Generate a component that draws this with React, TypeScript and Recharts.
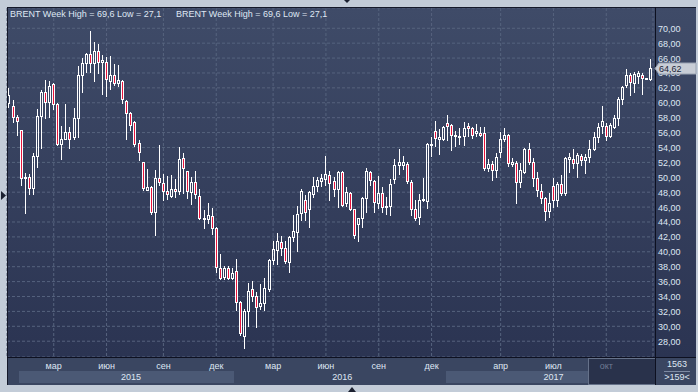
import React from 'react';
import { ComposedChart, Bar, XAxis, YAxis, CartesianGrid } from 'recharts';

// ---- data (weekly BRENT candles) ----
const opens = [
  60.0, 59.6, 58.1, 56.3, 49.9, 50.1, 48.6, 52.9, 58.2, 61.5,
  60.1, 62.5, 59.8, 54.5, 55.2, 56.1, 55.4, 58.0, 63.75, 65.4,
  66.5, 65.3, 66.9, 65.5, 65.5, 62.95, 63.75, 62.7, 62.95, 60.3,
  58.6, 57.4, 54.6, 52.0, 48.35, 48.7, 45.3, 49.9, 49.3, 48.2,
  47.5, 48.4, 48.1, 52.6, 50.8, 48.0, 49.4, 47.5, 44.4, 44.4,
  44.75, 43.2, 37.8, 36.6, 37.8, 36.5, 37.4, 33.2, 28.7, 32.0,
  35.0, 34.0, 32.7, 33.15, 35.0, 38.95, 40.3, 41.3, 40.5, 38.6,
  42.0, 42.6, 45.2, 47.0, 45.7, 47.8, 48.8, 49.45, 49.75, 50.3,
  49.5, 48.4, 50.7, 46.5, 47.9, 45.7, 43.75, 44.55, 47.2, 50.7,
  49.55, 46.6, 47.9, 46.0, 46.1, 49.8, 51.65, 51.7, 51.8, 49.4,
  45.75, 44.7, 46.9, 46.8, 54.4, 56.25, 55.2, 55.1, 57.3, 57.0,
  55.5, 55.4, 55.5, 56.9, 56.6, 56.0, 55.9, 55.9, 51.3, 51.8,
  51.0, 53.45, 55.2, 55.7, 51.8, 51.9, 49.4, 50.75, 53.75, 52.1,
  49.9, 48.2, 47.2, 45.5, 48.8, 46.9, 49.1, 47.9, 52.4, 52.45,
  51.96, 52.86, 52.3, 52.7, 53.75, 55.45, 56.9, 56.9, 55.55, 56.8,
  57.9, 60.5, 62.4, 63.7, 62.6, 63.6, 63.7, 63.3, 63.2,
];
const highs = [
  62.0, 60.4, 58.4, 56.3, 50.6, 50.5, 53.3, 59.1, 61.7, 63.0,
  62.9, 62.6, 60.0, 56.9, 59.9, 56.8, 59.3, 65.0, 66.0, 66.7,
  69.6, 68.1, 67.9, 66.4, 66.2, 66.3, 65.2, 65.1, 63.0, 60.4,
  58.7, 57.5, 54.95, 52.1, 51.1, 48.8, 51.0, 54.4, 50.5, 50.2,
  50.3, 49.75, 54.0, 53.3, 50.9, 50.0, 50.9, 48.4, 45.6, 46.5,
  45.9, 43.3, 39.75, 38.15, 38.1, 37.8, 39.0, 33.4, 32.3, 35.8,
  36.05, 34.6, 35.7, 36.5, 39.0, 41.5, 42.5, 42.1, 41.5, 42.1,
  45.0, 46.2, 48.4, 47.65, 48.2, 50.0, 50.0, 50.5, 52.9, 50.8,
  50.0, 50.9, 50.8, 48.7, 48.0, 45.8, 44.6, 47.3, 51.25, 50.8,
  49.6, 50.2, 48.7, 47.3, 49.8, 52.45, 53.8, 52.9, 52.0, 49.7,
  47.0, 47.7, 49.9, 54.6, 55.35, 57.6, 56.5, 56.9, 58.4, 57.1,
  56.15, 56.6, 57.4, 57.3, 56.8, 57.2, 56.8, 56.7, 52.5, 52.2,
  53.3, 56.1, 56.6, 55.8, 52.55, 52.2, 51.9, 53.9, 54.56, 52.55,
  50.76, 49.1, 47.3, 47.9, 49.9, 49.4, 50.3, 52.7, 53.2, 53.75,
  53.2, 53.1, 53.1, 55.0, 56.1, 57.25, 59.6, 57.25, 57.3, 58.4,
  60.8, 62.25, 64.6, 63.96, 64.1, 64.2, 63.96, 63.35, 65.9,
];
const lows = [
  59.5, 57.4, 55.7, 49.0, 45.2, 47.7, 47.7, 51.4, 53.9, 57.9,
  58.1, 59.2, 54.4, 52.4, 55.1, 53.9, 55.1, 55.4, 61.4, 64.1,
  64.1, 62.9, 64.0, 61.2, 60.85, 61.8, 62.4, 62.2, 60.0, 55.1,
  56.4, 54.15, 52.3, 48.35, 48.3, 45.1, 42.2, 49.0, 47.0, 47.1,
  47.3, 47.4, 47.8, 47.9, 47.2, 46.45, 47.2, 44.4, 43.2, 43.9,
  42.4, 37.25, 36.35, 36.35, 36.3, 36.35, 32.2, 28.8, 27.1, 30.0,
  33.4, 29.9, 32.3, 32.25, 34.8, 38.4, 38.4, 39.6, 38.5, 37.25,
  41.4, 40.1, 44.2, 44.3, 43.3, 47.3, 48.1, 48.8, 49.0, 46.9,
  47.5, 46.0, 46.1, 46.2, 45.6, 41.9, 41.4, 43.3, 45.3, 48.9,
  45.3, 45.9, 45.3, 45.1, 45.0, 49.3, 50.5, 51.1, 49.2, 45.0,
  44.2, 43.7, 46.8, 45.9, 52.8, 54.2, 53.1, 55.0, 55.0, 53.6,
  54.15, 54.5, 54.4, 55.5, 55.3, 55.6, 55.5, 51.0, 50.8, 49.6,
  50.0, 52.7, 54.9, 51.5, 51.5, 46.6, 48.7, 50.6, 51.8, 48.8,
  47.5, 46.5, 44.3, 44.7, 46.06, 46.15, 47.6, 47.6, 50.76, 51.3,
  50.0, 51.65, 50.6, 52.0, 53.7, 54.8, 56.0, 55.0, 55.45, 56.6,
  57.0, 59.8, 62.1, 61.05, 61.4, 62.7, 61.2, 63.2, 63.1,
];
const closes = [
  61.0, 58.1, 57.5, 49.9, 50.0, 48.6, 52.9, 58.2, 61.5, 60.1,
  62.3, 59.8, 54.5, 55.2, 56.1, 55.2, 58.0, 63.75, 65.4, 66.5,
  65.3, 66.9, 65.5, 65.7, 63.2, 63.75, 62.7, 63.1, 60.5, 58.6,
  57.05, 54.5, 53.4, 48.6, 48.7, 45.3, 49.9, 49.4, 48.1, 47.8,
  48.4, 48.1, 52.4, 51.2, 48.1, 49.4, 47.8, 44.5, 44.6, 45.0,
  43.2, 38.0, 36.5, 37.8, 36.5, 37.1, 33.2, 29.1, 32.0, 34.7,
  34.0, 32.6, 33.15, 35.15, 38.95, 40.4, 41.4, 40.5, 38.7, 41.95,
  42.8, 45.1, 48.2, 45.3, 48.0, 48.8, 49.6, 49.9, 50.5, 49.2,
  48.4, 50.7, 46.3, 48.0, 45.8, 42.3, 44.5, 47.2, 50.9, 49.7,
  46.7, 47.9, 46.0, 46.1, 49.1, 51.7, 52.1, 52.1, 49.55, 45.7,
  44.55, 46.9, 47.1, 54.45, 54.5, 55.25, 55.4, 56.7, 56.9, 55.7,
  55.7, 55.6, 56.6, 56.6, 55.7, 56.15, 55.7, 51.25, 51.8, 51.0,
  52.7, 55.2, 55.7, 51.96, 52.0, 49.4, 51.0, 53.75, 52.1, 49.9,
  48.3, 47.2, 45.5, 46.6, 46.9, 49.1, 47.9, 52.55, 52.7, 51.96,
  53.0, 52.3, 52.76, 53.75, 55.45, 56.8, 57.5, 55.55, 57.0, 57.9,
  60.5, 62.1, 63.7, 62.8, 63.8, 63.96, 63.3, 63.25, 64.62,
];

const monthTickWeeks = [12, 25, 39, 52, 66, 79, 92, 105, 122, 135, 148];
const monthTickLabels = ['мар', 'июн', 'сен', 'дек', 'мар', 'июн', 'сен', 'дек', 'апр', 'июл', 'окт'];
const yearLabels = ['2015', '2016', '2017'];
const yearLabelWeeks = [31, 83, 135];
const yearBandStartWeeks = [4, 57, 109];
const yearBandEndWeeks = [56, 108, 143];
const shadedYears = [true, false, true];
const fadedFromWeek = 144;
const priceTicks = [28, 30, 32, 34, 36, 38, 40, 42, 44, 46, 48, 50, 52, 54, 56, 58, 60, 62, 64, 66, 68, 70];
const priceDomain = [25.88, 72.72];
const lastPrice = 64.62;
const headerText = 'BRENT Week High = 69,6 Low = 27,1';
const counterLabel = '1563';
const barCountLabel = '>159<';

const data = opens.map((o, i) => ({
  week: i + 1,
  open: o,
  high: highs[i],
  low: lows[i],
  close: closes[i],
  range: [lows[i], highs[i]],
}));

// ---- layout / styles ----
const PLOT_TOP = 8;
const PLOT_H = 349;
const FONT = '"Liberation Sans", Arial, sans-serif';
const TEXT = '#dfe7f3';
const RED = '#e8143c';
const FRAME = '#c3ccd8';
const GRID = '#56637e';

const fmt = (v: number) => v.toFixed(2).replace('.', ',');
const valueToY = (v: number) => PLOT_TOP + ((priceDomain[1] - v) / (priceDomain[1] - priceDomain[0])) * PLOT_H;

const Candle = (props: any) => {
  const { x, y, width, height, payload } = props;
  if (!payload || x == null) return null;
  const { open, high, low, close } = payload;
  const top = Math.min(y, y + height);
  const h = Math.abs(height);
  const span = high - low || 1;
  const toY = (v: number) => top + ((high - v) / span) * h;
  const col = Math.floor(x + width / 2);
  const up = close >= open;
  const yHigh = Math.round(top);
  const yLow = Math.round(top + h);
  const yTop = Math.round(toY(Math.max(open, close)));
  let yBot = Math.round(toY(Math.min(open, close)));
  if (yBot - yTop < 1) yBot = yTop + 1;
  return (
    <g shapeRendering="crispEdges">
      {yTop > yHigh && <line x1={col + 0.5} x2={col + 0.5} y1={yHigh} y2={yTop} stroke="#ffffff" strokeWidth={1} />}
      {yLow > yBot && <line x1={col + 0.5} x2={col + 0.5} y1={yBot + 1} y2={yLow + 1} stroke="#ffffff" strokeWidth={1} />}
      <rect x={col - 0.5} y={yTop + 0.5} width={2} height={yBot - yTop} fill={up ? 'none' : RED} stroke="#ffffff" strokeWidth={1} />
    </g>
  );
};

const MonthTick = (props: any) => {
  const { x, payload, width } = props;
  const n = data.length;
  const bw = (width || 646) / n;
  const i = monthTickWeeks.indexOf(payload.value);
  const faded = payload.value >= fadedFromWeek;
  const left = x + (fadedFromWeek - payload.value - 0.5) * bw;
  const right = x + (n - payload.value + 0.5) * bw + 2;
  return (
    <g>
      {faded && (
        <rect x={Math.round(left) + 0.5} y={358.5} width={Math.round(right - left)} height={26} fill="#29324b" stroke="#66728a" strokeWidth={1} />
      )}
      <text x={x} y={369} textAnchor="middle" fontSize={9} fontFamily={FONT} fill={faded ? '#6f7b93' : TEXT}>
        {monthTickLabels[i]}
      </text>
    </g>
  );
};

const YearTick = (props: any) => {
  const { x, payload, width } = props;
  const n = data.length;
  const bw = (width || 646) / n;
  const i = yearLabelWeeks.indexOf(payload.value);
  const left = x + (yearBandStartWeeks[i] - payload.value - 0.5) * bw;
  const right = x + (yearBandEndWeeks[i] - payload.value + 0.5) * bw;
  return (
    <g>
      {shadedYears[i] && <rect x={Math.round(left)} y={371} width={Math.round(right - left)} height={12} fill="#4b5975" />}
      <text x={x} y={379.5} textAnchor="middle" fontSize={9} fontFamily={FONT} fill={TEXT}>
        {yearLabels[i]}
      </text>
    </g>
  );
};

const PriceTick = (props: any) => {
  const { y, payload } = props;
  return (
    <text x={658} y={y + 3.5} fontSize={9} fontFamily={FONT} fill={TEXT}>
      {fmt(payload.value)}
    </text>
  );
};

export default function App() {
  const tagY = Math.round(valueToY(lastPrice)) + 0.5;
  const x0 = 655;
  return (
    <div style={{ position: 'absolute', left: 0, top: 0, width: 698, height: 392, background: FRAME, overflow: 'hidden' }}>
      <div style={{ position: 'absolute', left: 7, top: 7, width: 689, height: 350, background: 'linear-gradient(#3f4b68, #2b3452)' }} />
      <div style={{ position: 'absolute', left: 7, top: 358, width: 689, height: 27, background: '#3a4661' }} />
      <div style={{ position: 'absolute', left: 0, top: 0 }}>
        <ComposedChart width={698} height={392} data={data} margin={{ top: PLOT_TOP, right: 2, bottom: 7, left: 7 }} barCategoryGap={0}>
          <CartesianGrid stroke={GRID} strokeDasharray="3 2" horizontal={true} vertical={true} />
          <XAxis
            dataKey="week"
            type="category"
            ticks={monthTickWeeks}
            interval={0}
            tick={<MonthTick />}
            axisLine={false}
            tickLine={false}
            height={13}
          />
          <XAxis
            xAxisId="years"
            dataKey="week"
            type="category"
            ticks={yearLabelWeeks}
            interval={0}
            tick={<YearTick />}
            axisLine={false}
            tickLine={false}
            height={15}
          />
          <YAxis
            orientation="right"
            type="number"
            domain={priceDomain}
            allowDataOverflow
            ticks={priceTicks}
            interval={0}
            tick={<PriceTick />}
            axisLine={false}
            tickLine={false}
            width={43}
          />
          <Bar dataKey="range" isAnimationActive={false} shape={(p: any) => <Candle {...p} />} />
        </ComposedChart>
      </div>
      <svg width={698} height={392} style={{ position: 'absolute', left: 0, top: 0, pointerEvents: 'none' }}>
        <rect x={7} y={7} width={689} height={1} fill="#15192a" />
        <rect x={7} y={7} width={1} height={378} fill="#15192a" />
        <rect x={655} y={7} width={1} height={378} fill="#0d1020" />
        <rect x={7} y={357} width={689} height={1} fill="#0d1020" />
        <rect x={664} y={371} width={26} height={1} fill="#7d8aa2" />
        <polygon points="1,191 1,200 6,195.5" fill="#1b2030" />
        <polygon points="348,392 356,392 352,387" fill="#1b2030" />
        <polygon points="344,0 350,0 347,3" fill="#1b2030" />
        <polygon
          points={`${x0},${tagY} ${x0 + 4},${tagY - 5.5} ${x0 + 41},${tagY - 5.5} ${x0 + 41},${tagY + 5.5} ${x0 + 4},${tagY + 5.5}`}
          fill="#c8cdd6"
          stroke="#9aa3b3"
          strokeWidth={1}
        />
        <text x={x0 + 4} y={tagY + 3.5} fontSize={9} fontFamily={FONT} fill="#1d2538">
          {fmt(lastPrice)}
        </text>
      </svg>
      <div style={{ position: 'absolute', left: 10, top: 9, fontFamily: FONT, fontSize: 9, color: TEXT, whiteSpace: 'nowrap', lineHeight: '11px' }}>
        {headerText}
      </div>
      <div style={{ position: 'absolute', left: 176, top: 9, fontFamily: FONT, fontSize: 9, color: TEXT, whiteSpace: 'nowrap', lineHeight: '11px' }}>
        {headerText}
      </div>
      <div style={{ position: 'absolute', left: 656, width: 42, top: 359, textAlign: 'center', fontFamily: FONT, fontSize: 9, color: TEXT, lineHeight: '11px' }}>
        {counterLabel}
      </div>
      <div style={{ position: 'absolute', left: 656, width: 42, top: 372, textAlign: 'center', fontFamily: FONT, fontSize: 9, color: TEXT, lineHeight: '11px' }}>
        {barCountLabel}
      </div>
    </div>
  );
}
